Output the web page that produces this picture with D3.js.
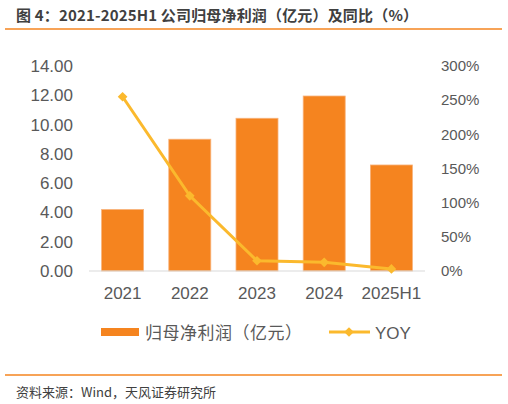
<!DOCTYPE html>
<html>
<head>
<meta charset="utf-8">
<script src="https://cdn.jsdelivr.net/npm/d3@7"></script>
<style>
  body { margin: 0; background: #fff; }
  svg { display: block; }
</style>
</head>
<body>
<div id="chart"></div>
<script>
// data
var categories = ["2021", "2022", "2023", "2024", "2025H1"];
var profit = [4.2, 9.0, 10.43, 11.95, 7.24];   // 归母净利润（亿元）
var yoy = [255, 110, 15, 12.7, 3];              // YOY, %
var leftTicks = [0, 2, 4, 6, 8, 10, 12, 14];
var rightTicks = [0, 50, 100, 150, 200, 250, 300];

var width = 508, height = 404;
var orange = "#f5841f", yellow = "#fbb92d", gray = "#595959";
var latin = "'Liberation Sans', Arial, 'Noto Sans CJK SC', sans-serif";
var cjk = "'Noto Sans CJK SC', sans-serif";

var svg = d3.select("#chart").append("svg")
    .attr("width", width)
    .attr("height", height);

// title
svg.append("text")
    .attr("x", 16).attr("y", 21)
    .attr("font-family", cjk)
    .attr("font-weight", "bold")
    .attr("font-size", 15)
    .attr("fill", "#404040")
    .attr("textLength", 402)
    .attr("lengthAdjust", "spacing")
    .text("图 4：2021-2025H1 公司归母净利润（亿元）及同比（%）");

svg.append("line")
    .attr("x1", 5).attr("x2", 502).attr("y1", 29).attr("y2", 29)
    .attr("stroke", orange).attr("stroke-width", 1.5);

// scales
var x = d3.scaleBand()
    .domain(categories)
    .range([89, 425])
    .paddingInner(0.375)
    .paddingOuter(0.1875);

var yL = d3.scaleLinear().domain([0, 14]).range([271, 66]);
var yR = d3.scaleLinear().domain([0, 300]).range([271, 66]);

// bars
svg.append("g")
    .selectAll("rect")
    .data(profit)
    .join("rect")
        .attr("x", (d, i) => x(categories[i]))
        .attr("y", d => yL(d))
        .attr("width", x.bandwidth())
        .attr("height", d => yL(0) - yL(d))
        .attr("fill", orange)
        .attr("stroke", "#f8b27a")
        .attr("stroke-width", 0.8);

// x axis line
svg.append("line")
    .attr("x1", 89).attr("x2", 425)
    .attr("y1", yL(0)).attr("y2", yL(0))
    .attr("stroke", "#d9d9d9").attr("stroke-width", 1);

// left axis
var left = svg.append("g")
    .attr("transform", "translate(73,0)")
    .call(d3.axisLeft(yL).tickValues(leftTicks).tickSize(0).tickPadding(0)
        .tickFormat(d3.format(".2f")));
left.select(".domain").remove();
left.selectAll("text")
    .attr("font-family", latin).attr("font-size", 17).attr("fill", gray);

// right axis
var right = svg.append("g")
    .attr("transform", "translate(441,0)")
    .call(d3.axisRight(yR).tickValues(rightTicks).tickSize(0).tickPadding(0)
        .tickFormat(d => d + "%"));
right.select(".domain").remove();
right.selectAll("text")
    .attr("font-family", latin).attr("font-size", 15).attr("fill", gray);

// bottom axis labels
var bottom = svg.append("g")
    .attr("transform", "translate(0," + yL(0) + ")")
    .call(d3.axisBottom(x).tickSize(0).tickPadding(16));
bottom.select(".domain").remove();
bottom.selectAll("text")
    .attr("font-family", latin).attr("font-size", 17).attr("fill", gray);

// yoy line
var line = d3.line()
    .x((d, i) => x(categories[i]) + x.bandwidth() / 2)
    .y(d => yR(d));

svg.append("path")
    .datum(yoy)
    .attr("d", line)
    .attr("fill", "none")
    .attr("stroke", yellow)
    .attr("stroke-width", 3);

var diamond = d3.symbol().type(d3.symbolDiamond2).size(60);
svg.append("g")
    .selectAll("path")
    .data(yoy)
    .join("path")
        .attr("d", diamond)
        .attr("transform", (d, i) => "translate(" + (x(categories[i]) + x.bandwidth() / 2) + "," + yR(d) + ")")
        .attr("fill", yellow);

// legend
var legend = svg.append("g");
legend.append("rect")
    .attr("x", 101).attr("y", 328).attr("width", 38).attr("height", 8)
    .attr("fill", orange);
legend.append("text")
    .attr("x", 145).attr("y", 339)
    .attr("font-family", cjk).attr("font-size", 17).attr("fill", gray)
    .attr("textLength", 157)
    .attr("lengthAdjust", "spacing")
    .text("归母净利润（亿元）");
legend.append("line")
    .attr("x1", 329).attr("x2", 370).attr("y1", 332).attr("y2", 332)
    .attr("stroke", yellow).attr("stroke-width", 3);
legend.append("path")
    .attr("d", diamond)
    .attr("transform", "translate(349,332)")
    .attr("fill", yellow);
legend.append("text")
    .attr("x", 375).attr("y", 339)
    .attr("font-family", latin).attr("font-size", 17).attr("fill", gray)
    .text("YOY");

// footer
svg.append("line")
    .attr("x1", 5).attr("x2", 502).attr("y1", 375).attr("y2", 375)
    .attr("stroke", orange).attr("stroke-width", 1.5);
svg.append("text")
    .attr("x", 16).attr("y", 397)
    .attr("font-family", cjk).attr("font-size", 13).attr("fill", "#404040")
    .text("资料来源：Wind，天风证券研究所");
</script>
</body>
</html>
